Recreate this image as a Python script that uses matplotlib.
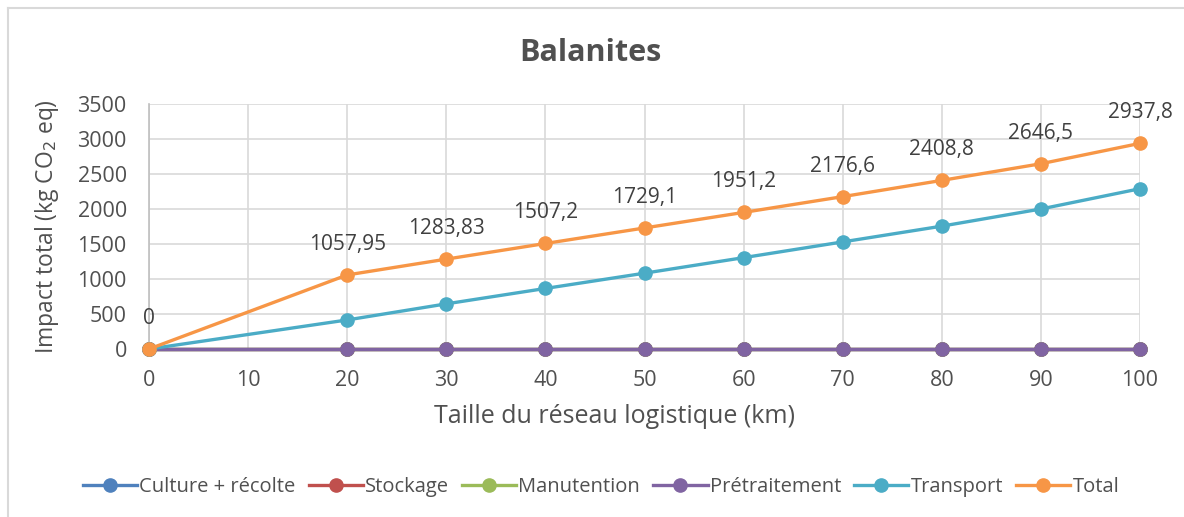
import matplotlib
matplotlib.use("Agg")
import matplotlib.pyplot as plt
from matplotlib.lines import Line2D

plt.rcParams["font.family"] = ["Open Sans", "DejaVu Sans"]

# Logistic network size (km)
distances = [0, 20, 30, 40, 50, 60, 70, 80, 90, 100]

culture = [0, 0, 0, 0, 0, 0, 0, 0, 0, 0]
stockage = [0, 0, 0, 0, 0, 0, 0, 0, 0, 0]
manutention = [0, 0, 0, 0, 0, 0, 0, 0, 0, 0]
pretraitement = [0, 0, 0, 0, 0, 0, 0, 0, 0, 0]
transport = [0, 415, 645, 865, 1083, 1305, 1530, 1755, 2000, 2290]
total = [0, 1057.95, 1283.83, 1507.2, 1729.1, 1951.2, 2176.6, 2408.8,
         2646.5, 2937.8]
total_labels = ["0", "1057,95", "1283,83", "1507,2", "1729,1", "1951,2",
                "2176,6", "2408,8", "2646,5", "2937,8"]

series = [
    ("Culture + récolte", culture, "#4F81BD"),
    ("Stockage", stockage, "#C0504D"),
    ("Manutention", manutention, "#9BBB59"),
    ("Prétraitement", pretraitement, "#8064A2"),
    ("Transport", transport, "#4BACC6"),
    ("Total", total, "#F79646"),
]

text_col = "#505050"
grid_col = "#D9D9D9"

fig = plt.figure(figsize=(11.84, 5.17), dpi=100)
ax = fig.add_axes([149 / 1184, 1 - 349 / 517, (1140 - 149) / 1184,
                   (349 - 104) / 517])

for name, vals, col in series:
    ax.plot(distances, vals, "-o", color=col, lw=2.4, ms=9.5,
            label=name, clip_on=False, zorder=3)

for x, y, lab in zip(distances, total, total_labels):
    ax.annotate(lab, (x, y), xytext=(0, 22), textcoords="offset points",
                ha="center", va="center", fontsize=15, color="#404040")

ax.set_xlim(0, 100)
ax.set_ylim(0, 3500)
ax.set_xticks(range(0, 101, 10))
ax.set_yticks(range(0, 3501, 500))
ax.grid(True, color=grid_col, lw=1.2)
ax.set_axisbelow(True)
for s in ["top", "right", "bottom"]:
    ax.spines[s].set_visible(False)
ax.spines["left"].set_color("#BFBFBF")
ax.spines["left"].set_linewidth(1.2)
ax.tick_params(length=0, labelsize=15.5, colors=text_col)
ax.tick_params(axis="x", pad=15)
ax.tick_params(axis="y", pad=16)

ax.set_xlabel("Taille du réseau logistique (km)", fontsize=18,
              color=text_col)
ax.xaxis.set_label_coords((615 - 149) / 991, -(417 - 349) / 245)
ax.xaxis.label.set_va("center")
ax.set_ylabel("Impact total (kg CO$_2$ eq)", fontsize=16.5,
              color=text_col, labelpad=12)
fig.text(590 / 1184, 1 - 53 / 517, "Balanites", ha="center", va="center",
         fontsize=22, fontweight="bold", color=text_col)

handles = [Line2D([], [], color=c, lw=2.4, marker="o", ms=9.5)
           for _, _, c in series]
fig.legend(handles, [n for n, _, _ in series], loc="center",
           bbox_to_anchor=(601 / 1184, 1 - 487 / 517), ncol=6,
           frameon=False, fontsize=14.5, handlelength=2.7,
           handletextpad=0.1, columnspacing=0.65, labelcolor=text_col)

# chart frame (top and left edges)
fig.add_artist(Line2D([8 / 1184, 8 / 1184], [0, 1 - 8 / 517],
                      transform=fig.transFigure, color="#D9D9D9", lw=1.5))
fig.add_artist(Line2D([8 / 1184, 1], [1 - 8 / 517, 1 - 8 / 517],
                      transform=fig.transFigure, color="#D9D9D9", lw=1.5))

fig.savefig("out.png", dpi=100)
